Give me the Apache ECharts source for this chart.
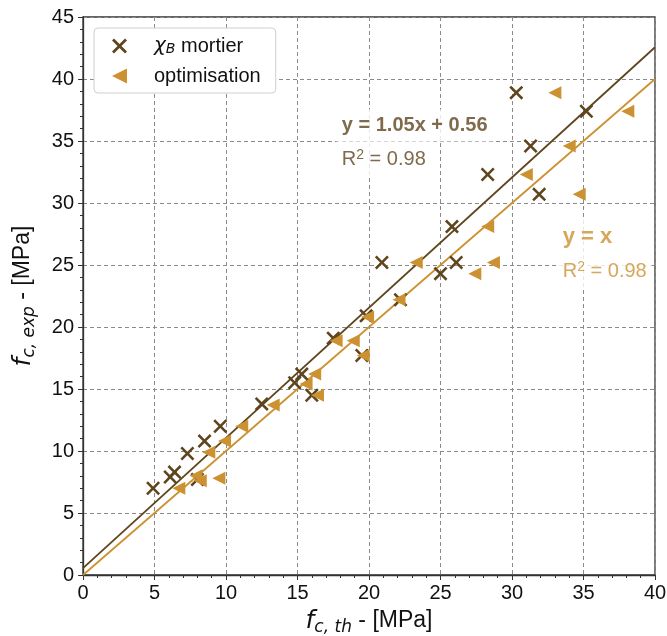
<!DOCTYPE html>
<html><head><meta charset="utf-8">
<script src="https://cdn.jsdelivr.net/npm/echarts@6/dist/echarts.min.js"></script>
<style>html,body{margin:0;padding:0;background:#fff}#c{width:667px;height:636px}</style>
</head><body><div id="c"></div>
<script>
// ---- data ----
const mortierX = [4.9, 6.1, 6.4, 8.0, 7.3, 8.5, 9.6, 12.5, 14.8, 15.3, 16.0, 17.5, 19.5, 19.8, 22.2, 20.9, 25.0, 26.1, 25.8, 28.3, 31.9, 31.3, 30.3, 35.2];
const mortierY = [7.0, 7.9, 8.3, 7.7, 9.8, 10.8, 12.0, 13.8, 15.5, 16.2, 14.5, 19.1, 17.7, 20.9, 22.2, 25.2, 24.3, 25.2, 28.1, 32.3, 30.7, 34.6, 38.9, 37.4];
const optimX = [6.7, 7.9, 8.2, 9.5, 8.8, 9.9, 11.1, 13.3, 15.6, 16.2, 16.4, 17.7, 18.9, 19.6, 19.9, 22.1, 23.3, 27.4, 28.7, 28.3, 31.0, 34.7, 34.0, 33.0, 38.1];
const optimY = [7.0, 8.0, 7.6, 7.8, 9.9, 10.8, 12.0, 13.7, 15.4, 16.2, 14.5, 18.9, 18.9, 17.7, 20.8, 22.2, 25.2, 24.3, 25.2, 28.1, 32.3, 30.7, 34.6, 38.9, 37.4];
const fitMortier = { slope: 1.05, intercept: 0.56, r2: '0.98' };
const fitOptim = { slope: 1.0, intercept: 0.0, r2: '0.98' };
const fitRange = [0, 40];
const seriesNames = ['mortier', 'optimisation'];

const DARK = '#5f451e';
const ORANGE = '#cc9130';
const FONT = 'Liberation Sans, Arial, sans-serif';

const zip = (a, b) => a.map((v, i) => [v, b[i]]);
const lineData = f => fitRange.map(x => [x, f.slope * x + f.intercept]);

const XSYM = 'path://M0,1.3L1.3,0L5,3.7L8.7,0L10,1.3L6.3,5L10,8.7L8.7,10L5,6.3L1.3,10L0,8.7L3.7,5Z';
const TRI = 'path://M0,5L10,0L10,10Z';

function annot(pos, text, rich, pad) {
  return {
    value: pos,
    label: {
      show: true, position: 'inside', align: 'left', verticalAlign: 'middle',
      formatter: text, rich: rich, backgroundColor: '#fff', padding: pad
    }
  };
}
function r2Rich(color) {
  return {
    r: { fontSize: 20, color: color, fontFamily: FONT, lineHeight: 22 },
    p: { fontSize: 14, color: color, fontFamily: FONT, lineHeight: 14, verticalAlign: 'top' }
  };
}
const r2Text = v => '{r|R}{p|2}{r| = ' + v + '}';

const nameRich = {
  f: { fontSize: 25, fontStyle: 'italic', fontFamily: 'DejaVu Sans', color: '#111', lineHeight: 30 },
  s: { fontSize: 17, fontStyle: 'italic', fontFamily: 'DejaVu Sans', color: '#111', verticalAlign: 'bottom', lineHeight: 14 },
  n: { fontSize: 23, fontFamily: FONT, color: '#111', lineHeight: 30 }
};

const chart = echarts.init(document.getElementById('c'), null, { renderer: 'canvas' });
const option = {
  animation: false,
  textStyle: { fontFamily: FONT },
  grid: { left: 83, right: 12, top: 17, bottom: 61, containLabel: false, outerBoundsMode: 'none',
          show: true, borderColor: '#333', borderWidth: 1.3, backgroundColor: 'transparent' },
  legend: {
    orient: 'vertical', left: 94, top: 28,
    padding: [8, 15, 7, 18], itemWidth: 25, itemHeight: 15, itemGap: 10,
    backgroundColor: '#fff', borderColor: '#cfcfcf', borderWidth: 1, borderRadius: 4,
    data: seriesNames,
    formatter: n => n === 'mortier' ? '{g|χ}{s|B}{n| mortier}' : '{n|optimisation}',
    textStyle: {
      fontSize: 20, color: '#111', padding: [0, 0, 0, 17], lineHeight: 20,
      rich: {
        g: { fontSize: 20, fontStyle: 'italic', fontFamily: 'DejaVu Sans', lineHeight: 20 },
        s: { fontSize: 14, fontStyle: 'italic', fontFamily: 'DejaVu Sans', verticalAlign: 'bottom', lineHeight: 12 },
        n: { fontSize: 20, fontFamily: FONT, lineHeight: 20 }
      }
    }
  },
  xAxis: {
    type: 'value', min: 0, max: 40, interval: 5,
    name: '{f|f}{s|c, th}{n| - [MPa]}', nameLocation: 'middle', nameGap: 31,
    nameTextStyle: { rich: nameRich },
    axisLine: { onZero: false, lineStyle: { color: '#333', width: 1.3 } },
    axisTick: { length: 5, lineStyle: { color: '#333', width: 1 } },
    minorTick: { show: true, splitNumber: 5, length: 3, lineStyle: { color: '#333', width: 1 } },
    splitLine: { lineStyle: { type: [4, 3], color: '#8a8a8a', width: 1 } },
    axisLabel: { fontSize: 20, color: '#111', margin: 8, fontFamily: FONT }
  },
  yAxis: {
    type: 'value', min: 0, max: 45, interval: 5,
    name: '{f|f}{s|c, exp}{n| - [MPa]}', nameLocation: 'middle', nameGap: 45, nameRotate: 90,
    nameTextStyle: { rich: nameRich },
    axisLine: { onZero: false, lineStyle: { color: '#333', width: 1.3 } },
    axisTick: { length: 5, lineStyle: { color: '#333', width: 1 } },
    minorTick: { show: true, splitNumber: 5, length: 3, lineStyle: { color: '#333', width: 1 } },
    splitLine: { lineStyle: { type: [4, 3], color: '#8a8a8a', width: 1 } },
    axisLabel: { fontSize: 20, color: '#111', margin: 9, fontFamily: FONT }
  },
  series: [
    { type: 'line', name: 'fitM', data: lineData(fitMortier), symbol: 'none', lineStyle: { color: DARK, width: 1.8 }, z: 1, silent: true },
    { type: 'line', name: 'fitO', data: lineData(fitOptim), symbol: 'none', lineStyle: { color: ORANGE, width: 1.8 }, z: 1, silent: true },
    { type: 'scatter', name: seriesNames[0], data: zip(mortierX, mortierY), symbol: XSYM, symbolSize: 14, itemStyle: { color: DARK, opacity: 1 }, z: 2 },
    { type: 'scatter', name: seriesNames[1], data: zip(optimX, optimY), symbol: TRI, symbolSize: 13, itemStyle: { color: ORANGE, opacity: 1 }, z: 3 },
    {
      type: 'scatter', name: 'annotations', symbolSize: 0, silent: true, z: 5,
      data: [
        annot([17.75, 36.25], '{t|y = ' + fitMortier.slope.toFixed(2) + 'x + ' + fitMortier.intercept.toFixed(2) + '}',
          { t: { fontSize: 20, fontWeight: 'bold', color: DARK, fontFamily: FONT } }, [6, 5]),
        annot([17.75, 33.5], r2Text(fitMortier.r2), r2Rich(DARK), [7, 5]),
        annot([33.2, 27.3], '{t|y = x}',
          { t: { fontSize: 22, fontWeight: 'bold', color: ORANGE, fontFamily: FONT } }, [8, 5]),
        annot([33.2, 24.5], r2Text(fitOptim.r2), r2Rich(ORANGE), [7, 5])
      ]
    }
  ]
};
chart.setOption(option);
</script>
</body></html>
